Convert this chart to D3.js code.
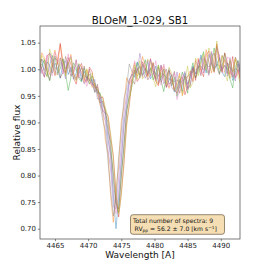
<!DOCTYPE html>
<html>
<head>
<meta charset="utf-8">
<script src="https://cdn.jsdelivr.net/npm/d3@7/dist/d3.min.js"></script>
<style>
  body { margin: 0; background: #fff; }
  svg text { font-family: "DejaVu Sans", sans-serif; }
</style>
</head>
<body>
<svg id="chart"></svg>
<script>
// wavelength grid [A]
const wavelengths = [
  4462.6, 4463.0, 4463.4, 4463.8, 4464.2, 4464.6, 4465.0, 4465.4, 4465.8, 4466.2,
  4466.6, 4467.0, 4467.4, 4467.8, 4468.2, 4468.6, 4469.0, 4469.4, 4469.8, 4470.2,
  4470.6, 4471.0, 4471.4, 4471.8, 4472.2, 4472.6, 4473.0, 4473.4, 4473.8, 4474.2,
  4474.6, 4475.0, 4475.4, 4475.8, 4476.2, 4476.6, 4477.0, 4477.4, 4477.8, 4478.2,
  4478.6, 4479.0, 4479.4, 4479.8, 4480.2, 4480.6, 4481.0, 4481.4, 4481.8, 4482.2,
  4482.6, 4483.0, 4483.4, 4483.8, 4484.2, 4484.6, 4485.0, 4485.4, 4485.8, 4486.2,
  4486.6, 4487.0, 4487.4, 4487.8, 4488.2, 4488.6, 4489.0, 4489.4, 4489.8, 4490.2,
  4490.6, 4491.0, 4491.4, 4491.8, 4492.2, 4492.6, 4493.0
];

// relative flux of the 9 spectra
const spec1 = [
  1.012, 1.019, 0.994, 0.987, 1.008, 1.026, 1.003, 0.999, 0.983, 1.011,
  1.016, 0.990, 1.004, 0.981, 0.993, 1.009, 0.978, 0.996, 0.985, 0.972,
  0.981, 0.958, 0.962, 0.951, 0.921, 0.918, 0.868, 0.838, 0.762, 0.700,
  0.758, 0.826, 0.898, 0.931, 0.979, 0.991, 0.985, 1.014, 1.003, 0.988,
  0.996, 1.015, 0.982, 0.990, 1.006, 0.975, 0.983, 1.001, 0.966, 0.979,
  0.990, 0.957, 0.964, 0.981, 0.958, 0.993, 0.972, 0.984, 1.006, 0.991,
  1.002, 1.027, 1.011, 0.993, 1.020, 1.031, 0.998, 1.009, 1.022, 0.994,
  0.986, 1.012, 1.005, 0.979, 0.994, 1.010, 0.990
];
const spec2 = [
  0.998, 1.031, 1.022, 1.004, 0.990, 1.015, 1.036, 1.009, 1.046, 1.017,
  0.995, 1.009, 1.028, 0.992, 0.981, 1.004, 0.995, 0.975, 0.999, 0.982,
  0.966, 0.974, 0.953, 0.933, 0.921, 0.866, 0.842, 0.760, 0.712, 0.772,
  0.818, 0.902, 0.930, 0.984, 0.973, 0.994, 1.012, 0.987, 0.996, 1.024,
  1.008, 0.985, 0.997, 1.013, 0.981, 0.972, 0.998, 1.006, 0.977, 0.964,
  0.983, 0.961, 0.975, 0.993, 0.950, 0.966, 0.988, 0.997, 0.978, 1.015,
  1.021, 0.996, 1.006, 1.037, 1.015, 0.993, 1.024, 1.044, 1.003, 0.995,
  1.018, 1.009, 0.983, 0.998, 1.019, 1.000, 0.975
];
const spec3 = [
  0.987, 1.004, 1.018, 0.996, 0.978, 1.010, 1.025, 0.993, 1.001, 1.020,
  0.991, 0.960, 0.985, 1.012, 1.003, 0.983, 0.976, 1.002, 0.990, 0.978,
  0.987, 0.975, 0.955, 0.956, 0.934, 0.924, 0.884, 0.863, 0.792, 0.745,
  0.731, 0.803, 0.852, 0.922, 0.946, 0.968, 0.994, 1.012, 0.984, 0.999,
  1.018, 0.990, 1.003, 0.980, 0.993, 1.008, 0.979, 0.958, 0.988, 0.998,
  0.969, 0.985, 0.949, 0.972, 0.995, 0.981, 0.955, 0.992, 1.012, 0.984,
  0.996, 1.016, 1.033, 1.000, 0.990, 1.012, 1.040, 1.013, 0.992, 1.006,
  1.030, 1.001, 0.981, 0.965, 1.004, 1.017, 0.993
];
const spec4 = [
  1.015, 1.002, 0.985, 1.025, 1.030, 1.008, 0.988, 1.019, 1.049, 1.000,
  0.992, 1.022, 1.010, 0.984, 0.972, 1.001, 1.011, 0.982, 0.975, 1.004,
  0.995, 0.964, 0.967, 0.945, 0.948, 0.920, 0.912, 0.871, 0.838, 0.764,
  0.722, 0.768, 0.821, 0.899, 0.931, 0.978, 0.999, 0.977, 0.985, 1.014,
  1.002, 0.988, 1.020, 0.996, 0.977, 0.969, 1.007, 0.985, 0.966, 0.997,
  0.988, 0.961, 0.955, 0.978, 0.986, 0.952, 0.968, 0.989, 1.003, 0.979,
  1.018, 1.000, 0.986, 1.027, 1.034, 1.011, 0.994, 1.048, 1.020, 0.996,
  1.031, 1.012, 0.990, 1.024, 0.984, 0.999, 0.980
];
const spec5 = [
  1.021, 0.995, 0.986, 1.008, 1.031, 1.018, 0.997, 0.990, 1.022, 1.000,
  0.982, 1.016, 1.024, 0.994, 0.980, 1.009, 0.990, 0.972, 0.986, 0.980,
  0.970, 0.981, 0.944, 0.944, 0.918, 0.902, 0.848, 0.811, 0.741, 0.738,
  0.796, 0.859, 0.916, 0.953, 0.981, 0.988, 1.003, 0.992, 1.030, 1.004,
  0.983, 0.994, 1.018, 1.000, 0.979, 0.987, 1.008, 0.973, 0.980, 1.001,
  0.966, 0.959, 0.995, 0.964, 0.981, 0.996, 0.965, 0.971, 1.004, 0.992,
  1.013, 1.022, 0.993, 1.006, 1.028, 1.017, 0.996, 1.041, 1.022, 0.998,
  1.008, 0.987, 1.022, 0.993, 0.978, 1.015, 1.002
];
const spec6 = [
  0.990, 1.019, 1.012, 0.997, 0.980, 1.004, 1.021, 1.016, 0.984, 0.994,
  1.024, 1.006, 0.987, 0.993, 1.018, 0.986, 0.980, 1.006, 0.978, 1.000,
  0.975, 0.956, 0.972, 0.937, 0.940, 0.917, 0.900, 0.846, 0.806, 0.749,
  0.737, 0.795, 0.860, 0.917, 0.954, 0.981, 0.972, 1.002, 0.989, 1.009,
  0.997, 0.980, 0.989, 1.012, 0.982, 1.004, 0.975, 0.992, 1.000, 0.972,
  0.977, 0.996, 0.967, 0.955, 0.972, 0.988, 0.963, 0.969, 1.001, 0.983,
  1.007, 0.988, 1.020, 1.014, 0.993, 1.024, 1.030, 1.004, 0.990, 1.026,
  1.018, 0.992, 1.016, 0.985, 1.023, 1.010, 0.986
];
const spec7 = [
  1.020, 0.992, 1.005, 1.027, 0.997, 0.988, 1.032, 1.014, 1.021, 0.991,
  1.003, 1.029, 0.989, 0.994, 1.017, 0.984, 1.006, 0.986, 0.968, 0.983,
  0.971, 0.966, 0.958, 0.952, 0.928, 0.911, 0.881, 0.831, 0.773, 0.728,
  0.769, 0.830, 0.891, 0.940, 0.970, 0.985, 1.016, 0.998, 1.004, 0.985,
  1.011, 1.018, 0.987, 0.993, 1.016, 0.980, 0.970, 1.010, 0.989, 0.967,
  0.978, 0.993, 0.943, 0.961, 0.991, 0.985, 0.961, 0.996, 0.976, 1.016,
  1.005, 0.991, 1.024, 1.018, 0.988, 1.034, 1.000, 1.021, 1.028, 0.993,
  0.996, 1.023, 1.019, 0.989, 0.984, 0.991, 1.018
];
const spec8 = [
  1.004, 1.010, 0.998, 1.014, 1.007, 0.993, 1.012, 1.001, 1.009, 1.019,
  1.000, 1.013, 0.995, 1.005, 0.998, 0.992, 1.003, 0.989, 0.984, 0.991,
  0.974, 0.969, 0.958, 0.935, 0.905, 0.884, 0.826, 0.772, 0.724, 0.758,
  0.835, 0.884, 0.945, 0.965, 1.010, 0.996, 0.991, 0.999, 1.006, 0.990,
  1.002, 0.994, 1.000, 0.996, 0.992, 0.988, 0.993, 0.990, 0.984, 0.982,
  0.979, 0.977, 0.980, 0.974, 0.978, 0.982, 0.986, 0.991, 0.995, 0.999,
  1.003, 1.006, 0.999, 1.010, 1.004, 1.012, 1.001, 1.009, 1.007, 1.002,
  1.006, 1.000, 1.004, 0.996, 1.001, 0.998, 1.003
];
const spec9 = [
  0.994, 1.026, 1.017, 0.985, 1.038, 1.022, 0.992, 0.989, 1.020, 1.016,
  0.987, 1.011, 1.021, 0.990, 0.978, 1.011, 1.004, 0.982, 1.001, 0.972,
  0.993, 0.966, 0.963, 0.951, 0.947, 0.928, 0.910, 0.879, 0.831, 0.770,
  0.728, 0.761, 0.829, 0.891, 0.940, 0.971, 1.008, 0.981, 1.016, 0.982,
  0.989, 1.019, 1.013, 0.983, 0.967, 1.007, 0.985, 1.000, 0.972, 1.004,
  0.992, 0.960, 0.967, 0.988, 0.953, 0.979, 1.006, 0.965, 0.975, 1.021,
  0.988, 1.012, 1.029, 0.998, 1.040, 1.025, 0.995, 1.053, 1.000, 1.026,
  0.993, 0.978, 1.018, 0.995, 1.021, 0.987, 0.972
];
const spectra = [spec1, spec2, spec3, spec4, spec5, spec6, spec7, spec8, spec9];

const xTicks = [4465, 4470, 4475, 4480, 4485, 4490];
const yTicks = [0.70, 0.75, 0.80, 0.85, 0.90, 0.95, 1.00, 1.05];

const titleText = "BLOeM_1-029, SB1";
const nSpectra = 9;
const rvPP = 56.2, rvErr = 7.0;

const config = {
  width: 266, height: 266,
  margin: { top: 26, right: 26, bottom: 27, left: 40 }
};

const w = config.width - config.margin.left - config.margin.right;
const h = config.height - config.margin.top - config.margin.bottom;

const svg = d3.select('#chart')
  .attr('width', config.width)
  .attr('height', config.height);

const x = d3.scaleLinear().domain([4462.74, 4492.9]).range([0, w]);
const y = d3.scaleLinear().domain([0.6806, 1.0814]).range([h, 0]);

const chart = svg.append('g')
  .attr('transform', `translate(${config.margin.left},${config.margin.top})`);

chart.append('clipPath').attr('id', 'clip')
  .append('rect').attr('width', w).attr('height', h);

const colors = d3.schemeCategory10;
const line = d3.line()
  .x((d, i) => x(wavelengths[i]))
  .y(d => y(d));

chart.append('g').attr('clip-path', 'url(#clip)')
  .selectAll('path')
  .data(spectra)
  .join('path')
  .attr('fill', 'none')
  .attr('stroke', (d, i) => colors[i])
  .attr('stroke-opacity', 0.55)
  .attr('stroke-width', 0.75)
  .attr('d', line);

// axes
const xAxis = d3.axisBottom(x).tickValues(xTicks).tickFormat(d3.format('d'))
  .tickSize(2.2).tickPadding(1.8);
const yAxis = d3.axisLeft(y).tickValues(yTicks).tickFormat(d3.format('.2f'))
  .tickSize(2.2).tickPadding(1.8);

const xg = chart.append('g').attr('transform', `translate(0,${h})`).call(xAxis);
const yg = chart.append('g').call(yAxis);
[xg, yg].forEach(g => {
  g.select('.domain').remove();
  g.selectAll('line').attr('stroke', '#333').attr('stroke-width', 0.6);
  g.selectAll('text').attr('font-size', 7).attr('fill', '#222')
    .attr('font-family', '"DejaVu Sans", sans-serif');
});

// frame
chart.append('rect')
  .attr('width', w).attr('height', h)
  .attr('fill', 'none').attr('stroke', '#444').attr('stroke-width', 0.7);

// labels
svg.append('text')
  .attr('x', config.margin.left + w / 2).attr('y', 24)
  .attr('text-anchor', 'middle').attr('font-size', 10.2).attr('fill', '#111')
  .text(titleText);

svg.append('text')
  .attr('x', config.margin.left + w / 2).attr('y', 258)
  .attr('text-anchor', 'middle').attr('font-size', 9).attr('fill', '#111')
  .text('Wavelength [A]');

svg.append('text')
  .attr('transform', `translate(19.5,${config.margin.top + h / 2}) rotate(-90)`)
  .attr('text-anchor', 'middle').attr('font-size', 9).attr('fill', '#111')
  .text('Relative flux');

// info box (pixel placement inside the axes, bottom right)
const box = chart.append('g').attr('transform', 'translate(90.5,188.7)');
box.append('rect')
  .attr('width', 94).attr('height', 19.6).attr('rx', 2.5)
  .attr('fill', '#f5deb3')
  .attr('stroke', '#6b5a40').attr('stroke-width', 0.7);

box.append('text')
  .attr('x', 2.4).attr('y', 7.9)
  .attr('font-size', 6.1).attr('fill', '#111')
  .text(`Total number of spectra: ${nSpectra}`);

const t2 = box.append('text')
  .attr('x', 4).attr('y', 16.3)
  .attr('font-size', 6.1).attr('fill', '#111');
t2.append('tspan').text('RV');
t2.append('tspan').attr('font-size', 4.3).attr('dy', 1.2).text('pp');
t2.append('tspan').attr('dy', -1.2).text(` = ${rvPP.toFixed(1)} \u00b1 ${rvErr.toFixed(1)} [km s`);
t2.append('tspan').attr('font-size', 4.3).attr('dy', -2.4).text('\u22121');
t2.append('tspan').attr('dy', 2.4).text(']');
</script>
</body>
</html>
